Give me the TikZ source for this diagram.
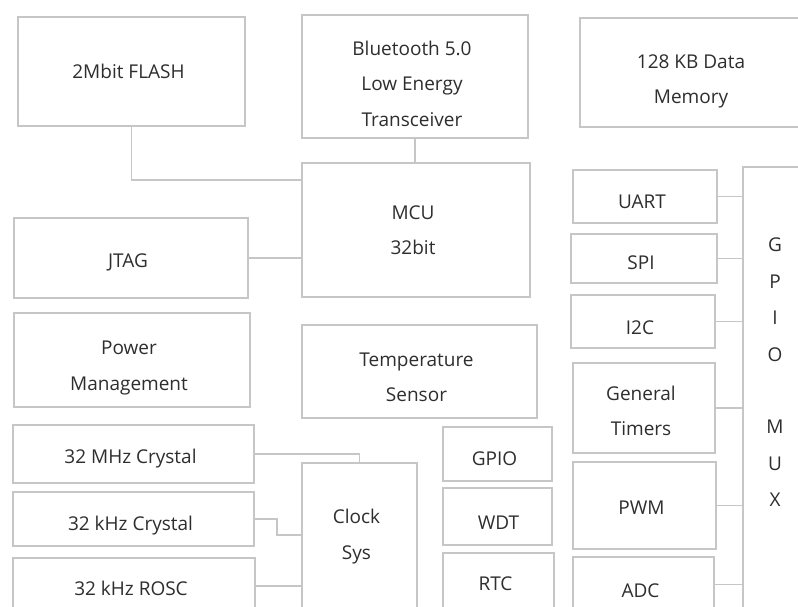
\documentclass[tikz,border=0pt]{standalone}
\usepackage{fontspec}
\setmainfont{Open Sans}
\definecolor{edge}{HTML}{C6C6C6}
\definecolor{ink}{HTML}{2E2E2E}
\tikzset{
  blk/.style={draw=edge, line width=1.8pt, fill=white, inner sep=0pt, outer sep=0pt},
  wire/.style={draw=edge, line width=1.6pt},
  lbl/.style={text=ink, align=center, font=\fontsize{19}{35.5}\selectfont, inner sep=0pt}
}
% name, x1, y1, x2, y2, text, text shift down (px)
\newcommand\blk[7]{\node[blk, minimum width={(#4)-(#2)}, minimum height={(#5)-(#3)},
  label={[lbl,xshift=-3pt,yshift={-(#7)}]center:{#6}}] (#1) at ({((#2)+(#4))/2},{-((#3)+(#5))/2}) {};}
\begin{document}
\begin{tikzpicture}[x=1pt,y=1pt]
\useasboundingbox (0,0) rectangle (798,-606);
\fill[white] (0,0) rectangle (798,-606);
\clip (0,0) rectangle (798,-606);
% top row
\blk{flash}{18}{17}{245}{126}{2Mbit FLASH}{0}
\blk{bt}{302}{15}{528}{138}{Bluetooth 5.0\\Low Energy\\Transceiver}{7}
\blk{mem}{580}{18}{808}{127}{128 KB Data\\Memory}{9}
% middle
\blk{mcu}{302}{163}{530}{297}{MCU\\32bit}{0}
\blk{jtag}{14}{218}{248}{298}{JTAG}{4}
\blk{pwr}{14}{313}{250}{407}{Power\\Management}{8}
\blk{temp}{302}{325}{537}{418}{Temperature\\Sensor}{6}
% clocks
\blk{mhz}{13}{425}{254}{483}{32 MHz Crystal}{5}
\blk{khz}{13}{492}{254}{546}{32 kHz Crystal}{7}
\blk{rosc}{13}{558}{255}{614}{32 kHz ROSC}{2}
\blk{clk}{302}{463}{417}{610}{Clock\\Sys}{0}
% small column
\blk{gpio}{443}{427}{552}{481}{GPIO}{5}
\blk{wdt}{443}{488}{552}{545}{\hspace*{8pt}WDT}{6}
\blk{rtc}{443}{553}{554}{612}{RTC}{1}
% peripherals
\blk{uart}{573}{170}{717}{223}{UART}{5}
\blk{spi}{571}{234}{717}{283}{SPI}{4}
\blk{iic}{571}{295}{715}{348}{I2C}{6}
\blk{tim}{573}{363}{715}{453}{General\\Timers}{3}
\blk{pwm}{573}{462}{716}{549}{PWM}{2}
\blk{adc}{573}{557}{714}{612}{ADC}{6}
\blk{mux}{743}{167}{810}{640}{}{0}
\node[lbl, font=\fontsize{19}{36.4}\selectfont] (muxtext) at (775,-361) {~\\G\\P\\I\\O\\~\\M\\U\\X};
% connectors
\coordinate (c180) at (0,-180);
\coordinate (c535) at (0,-535);
\draw[wire] (flash.south) |- (mcu.west |- c180);
\draw[wire] (bt.south) -- (bt.south |- mcu.north);
\draw[wire] (jtag.east) -- (jtag.east -| mcu.west);
\draw[wire] (mhz.east) -| (clk.north);
\draw[wire] (khz.east) -- ++(23,0) |- (clk.west |- c535);
\draw[wire] (rosc.east) -- (rosc.east -| clk.west);
\draw[wire] (uart.east) -- (uart.east -| mux.west);
\draw[wire] (spi.east) -- (spi.east -| mux.west);
\draw[wire] (iic.east) -- (iic.east -| mux.west);
\draw[wire] (tim.east) -- (tim.east -| mux.west);
\draw[wire] (pwm.east) -- (pwm.east -| mux.west);
\draw[wire] (adc.east) -- (adc.east -| mux.west);
\end{tikzpicture}
\end{document}
